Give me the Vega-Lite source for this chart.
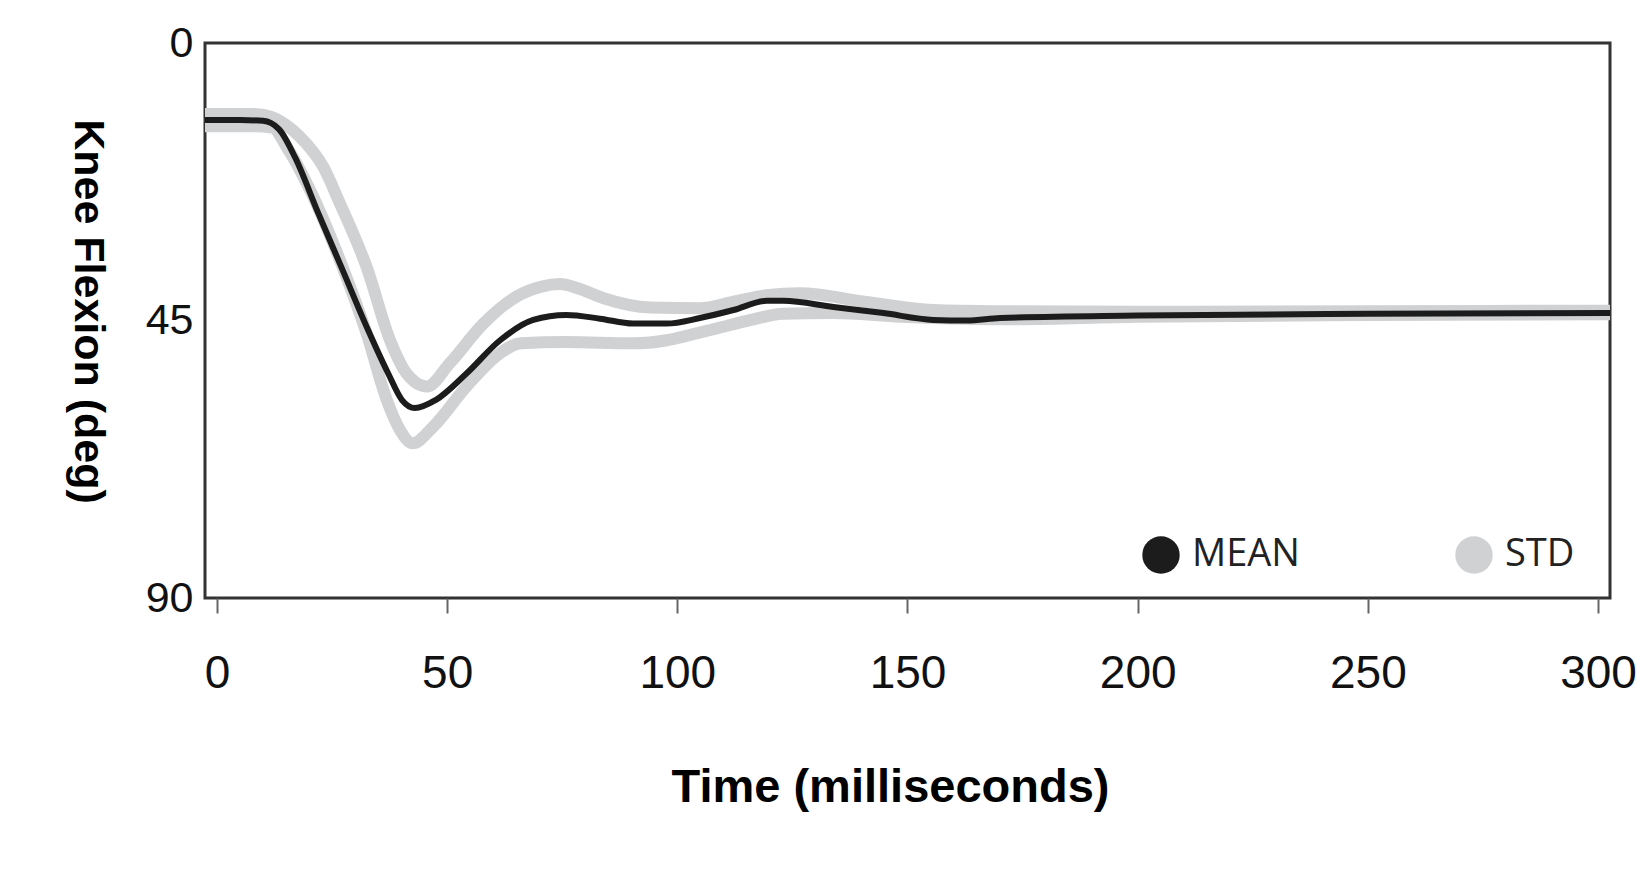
{
  "$schema": "https://vega.github.io/schema/vega-lite/v6.json",
  "width": 1405,
  "height": 555,
  "autosize": {"type": "none"},
  "padding": {"left": 205, "top": 43, "right": 34, "bottom": 274},
  "background": "white",
  "config": {
    "view": {"stroke": "#333333", "strokeWidth": 3},
    "font": "Liberation Sans"
  },
  "data": {
    "values": [
      {"t": -2.6, "v": 12.5, "series": "MEAN", "band": "mean"},
      {"t": 5, "v": 12.5, "series": "MEAN", "band": "mean"},
      {"t": 10, "v": 12.6, "series": "MEAN", "band": "mean"},
      {"t": 13.5, "v": 14.0, "series": "MEAN", "band": "mean"},
      {"t": 17, "v": 18.6, "series": "MEAN", "band": "mean"},
      {"t": 22, "v": 27.6, "series": "MEAN", "band": "mean"},
      {"t": 27, "v": 36.3, "series": "MEAN", "band": "mean"},
      {"t": 32.8, "v": 46.5, "series": "MEAN", "band": "mean"},
      {"t": 37.2, "v": 53.6, "series": "MEAN", "band": "mean"},
      {"t": 40.2, "v": 57.9, "series": "MEAN", "band": "mean"},
      {"t": 43, "v": 59.2, "series": "MEAN", "band": "mean"},
      {"t": 47.5, "v": 57.9, "series": "MEAN", "band": "mean"},
      {"t": 54.2, "v": 53.6, "series": "MEAN", "band": "mean"},
      {"t": 61.5, "v": 48.2, "series": "MEAN", "band": "mean"},
      {"t": 68.7, "v": 44.9, "series": "MEAN", "band": "mean"},
      {"t": 75.9, "v": 44.1, "series": "MEAN", "band": "mean"},
      {"t": 83.2, "v": 44.7, "series": "MEAN", "band": "mean"},
      {"t": 90.4, "v": 45.5, "series": "MEAN", "band": "mean"},
      {"t": 97.7, "v": 45.5, "series": "MEAN", "band": "mean"},
      {"t": 104.9, "v": 44.6, "series": "MEAN", "band": "mean"},
      {"t": 112.2, "v": 43.3, "series": "MEAN", "band": "mean"},
      {"t": 119.4, "v": 41.8, "series": "MEAN", "band": "mean"},
      {"t": 123, "v": 41.8, "series": "MEAN", "band": "mean"},
      {"t": 133.9, "v": 42.8, "series": "MEAN", "band": "mean"},
      {"t": 144.8, "v": 43.8, "series": "MEAN", "band": "mean"},
      {"t": 155.6, "v": 44.9, "series": "MEAN", "band": "mean"},
      {"t": 162.9, "v": 45.0, "series": "MEAN", "band": "mean"},
      {"t": 170.1, "v": 44.6, "series": "MEAN", "band": "mean"},
      {"t": 200, "v": 44.2, "series": "MEAN", "band": "mean"},
      {"t": 250, "v": 43.9, "series": "MEAN", "band": "mean"},
      {"t": 302.6, "v": 43.8, "series": "MEAN", "band": "mean"},

      {"t": -2.6, "v": 11.5, "series": "STD", "band": "upper"},
      {"t": 8, "v": 11.5, "series": "STD", "band": "upper"},
      {"t": 11.8, "v": 12.0, "series": "STD", "band": "upper"},
      {"t": 15, "v": 13.3, "series": "STD", "band": "upper"},
      {"t": 18, "v": 15.2, "series": "STD", "band": "upper"},
      {"t": 23.1, "v": 20.1, "series": "STD", "band": "upper"},
      {"t": 26.7, "v": 26, "series": "STD", "band": "upper"},
      {"t": 32.5, "v": 36.3, "series": "STD", "band": "upper"},
      {"t": 37.6, "v": 48.2, "series": "STD", "band": "upper"},
      {"t": 41.2, "v": 53.6, "series": "STD", "band": "upper"},
      {"t": 45.6, "v": 55.7, "series": "STD", "band": "upper"},
      {"t": 50.6, "v": 51.9, "series": "STD", "band": "upper"},
      {"t": 57.9, "v": 45.5, "series": "STD", "band": "upper"},
      {"t": 65.1, "v": 41.1, "series": "STD", "band": "upper"},
      {"t": 70.5, "v": 39.5, "series": "STD", "band": "upper"},
      {"t": 74.5, "v": 39.1, "series": "STD", "band": "upper"},
      {"t": 78.5, "v": 39.8, "series": "STD", "band": "upper"},
      {"t": 84, "v": 41.4, "series": "STD", "band": "upper"},
      {"t": 94.1, "v": 42.9, "series": "STD", "band": "upper"},
      {"t": 104.9, "v": 43.0, "series": "STD", "band": "upper"},
      {"t": 112, "v": 42.0, "series": "STD", "band": "upper"},
      {"t": 119.4, "v": 40.9, "series": "STD", "band": "upper"},
      {"t": 126.6, "v": 40.6, "series": "STD", "band": "upper"},
      {"t": 141.1, "v": 42.0, "series": "STD", "band": "upper"},
      {"t": 155.6, "v": 43.3, "series": "STD", "band": "upper"},
      {"t": 170, "v": 43.5, "series": "STD", "band": "upper"},
      {"t": 200, "v": 43.6, "series": "STD", "band": "upper"},
      {"t": 250, "v": 43.5, "series": "STD", "band": "upper"},
      {"t": 302.6, "v": 43.4, "series": "STD", "band": "upper"},

      {"t": -2.6, "v": 13.5, "series": "STD", "band": "lower"},
      {"t": 8, "v": 13.5, "series": "STD", "band": "lower"},
      {"t": 12, "v": 13.7, "series": "STD", "band": "lower"},
      {"t": 15.1, "v": 16.8, "series": "STD", "band": "lower"},
      {"t": 20.2, "v": 23.8, "series": "STD", "band": "lower"},
      {"t": 26.7, "v": 35.2, "series": "STD", "band": "lower"},
      {"t": 32.5, "v": 47.1, "series": "STD", "band": "lower"},
      {"t": 36.9, "v": 57.9, "series": "STD", "band": "lower"},
      {"t": 39.8, "v": 62.8, "series": "STD", "band": "lower"},
      {"t": 42.5, "v": 64.9, "series": "STD", "band": "lower"},
      {"t": 47, "v": 62.2, "series": "STD", "band": "lower"},
      {"t": 54.2, "v": 55.7, "series": "STD", "band": "lower"},
      {"t": 61.5, "v": 50.3, "series": "STD", "band": "lower"},
      {"t": 66, "v": 48.7, "series": "STD", "band": "lower"},
      {"t": 75.9, "v": 48.5, "series": "STD", "band": "lower"},
      {"t": 90.4, "v": 48.7, "series": "STD", "band": "lower"},
      {"t": 97.7, "v": 48.2, "series": "STD", "band": "lower"},
      {"t": 103, "v": 47.3, "series": "STD", "band": "lower"},
      {"t": 109, "v": 46.2, "series": "STD", "band": "lower"},
      {"t": 116, "v": 44.9, "series": "STD", "band": "lower"},
      {"t": 123, "v": 43.9, "series": "STD", "band": "lower"},
      {"t": 133.9, "v": 43.8, "series": "STD", "band": "lower"},
      {"t": 148.4, "v": 44.4, "series": "STD", "band": "lower"},
      {"t": 170, "v": 44.8, "series": "STD", "band": "lower"},
      {"t": 200, "v": 44.4, "series": "STD", "band": "lower"},
      {"t": 250, "v": 44.1, "series": "STD", "band": "lower"},
      {"t": 302.6, "v": 44.0, "series": "STD", "band": "lower"}
    ]
  },
  "encoding": {
    "x": {
      "field": "t",
      "type": "quantitative",
      "scale": {"domain": [-2.6, 302.6], "nice": false, "zero": false},
      "axis": {
        "title": "Time (milliseconds)",
        "values": [0, 50, 100, 150, 200, 250, 300],
        "grid": false,
        "domain": false,
        "ticks": true,
        "tickSize": 15,
        "tickColor": "#666666",
        "tickWidth": 2,
        "labelFont": "Liberation Sans",
        "labelFontSize": 46,
        "labelColor": "#111111",
        "labelPadding": 38,
        "labelFlush": false,
        "titleFont": "Liberation Sans",
        "titleFontWeight": "bold",
        "titleFontSize": 47,
        "titleColor": "#000000",
        "titleX": 685,
        "titleY": 203,
        "titleBaseline": "alphabetic",
        "titleAlign": "center"
      }
    },
    "y": {
      "field": "v",
      "type": "quantitative",
      "scale": {"domain": [0, 90], "reverse": true, "nice": false},
      "axis": {
        "title": "Knee Flexion (deg)",
        "values": [0, 45, 90],
        "grid": false,
        "domain": false,
        "ticks": false,
        "labelFont": "Liberation Sans",
        "labelFontSize": 43,
        "labelColor": "#111111",
        "labelPadding": 12,
        "labelFlush": false,
        "titleFont": "Liberation Sans",
        "titleFontWeight": "bold",
        "titleFontSize": 43,
        "titleColor": "#000000",
        "titleAngle": 90,
        "titleX": -118,
        "titleY": 268,
        "titleBaseline": "middle",
        "titleAlign": "center"
      }
    }
  },
  "layer": [
    {
      "transform": [{"filter": "datum.series === 'STD'"}],
      "mark": {"type": "line", "interpolate": "monotone", "strokeWidth": 12, "clip": true},
      "encoding": {
        "detail": {"field": "band", "type": "nominal"},
        "color": {
          "field": "series",
          "type": "nominal",
          "scale": {"domain": ["MEAN", "STD"], "range": ["#1c1c1c", "#d0d1d3"]},
          "legend": {
            "title": null,
            "orient": "none",
            "legendX": 937,
            "legendY": 493,
            "direction": "horizontal",
            "symbolType": "circle",
            "symbolSize": 1400,
            "symbolStrokeWidth": 0,
            "labelFont": "Open Sans",
            "labelFontSize": 38,
            "labelColor": "#222222",
            "labelOffset": 12,
            "columnPadding": 155,
            "encode": {
              "symbols": {
                "update": {
                  "fill": {"scale": "color", "field": "value"},
                  "strokeWidth": {"value": 0}
                }
              }
            }
          }
        }
      }
    },
    {
      "transform": [{"filter": "datum.series === 'MEAN'"}],
      "mark": {"type": "line", "interpolate": "monotone", "strokeWidth": 6, "clip": true},
      "encoding": {
        "color": {"field": "series", "type": "nominal"}
      }
    }
  ]
}
